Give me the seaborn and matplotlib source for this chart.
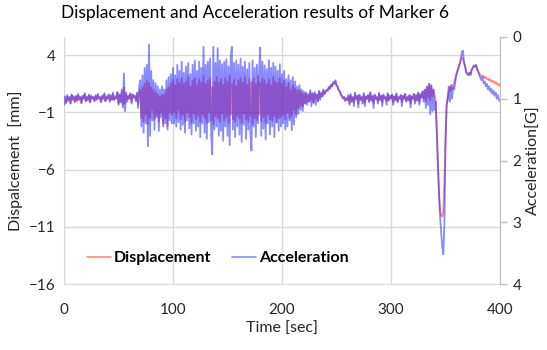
import numpy as np
import pandas as pd
import matplotlib
matplotlib.use("Agg")
import matplotlib.pyplot as plt
import seaborn as sns
from matplotlib.lines import Line2D

# ---------------- data ----------------
# Displacement [mm], 1 s sampling, t = 0..400
disp_quiet = [  # t = 0..69
    -0.4, 0.2, -0.2, 0.4, 0.0, 0.3, -0.2, 0.5, 0.1, 0.3,
    -0.1, 0.4, 0.0, 0.5, 0.1, 0.3, -0.2, 0.4, 0.2, 0.6,
    0.0, 0.3, 0.1, 0.5, -0.1, 0.4, 0.2, 0.3, 0.0, 0.4,
    0.1, 0.5, 0.2, 0.3, -0.1, 0.4, 0.2, 0.6, 0.0, 0.3,
    0.2, 0.5, 0.0, 0.4, 0.1, 0.6, 0.1, 0.3, 0.2, 0.7,
    -0.2, 0.5, 0.0, 0.8, -0.3, 1.2, -0.2, 0.6, 0.1, 0.4,
    0.2, 0.6, -0.1, 0.5, 0.3, 0.4, 0.1, 0.6, -0.3, 0.8]
disp_shake = [  # t = 70..219
    1.0, -1.5, 1.2, -1.8, 1.5, -1.2, 1.8, -2.0, 1.6, -1.5,
    1.2, -0.8, 1.0, -1.6, 0.8, -1.2, 0.6, -1.8, 0.4, -1.0,
    0.5, -2.0, 0.6, -1.5, 1.0, -2.2, 1.2, -1.0, 1.5, -1.2,
    1.8, -1.0, 1.4, -1.5, 1.9, -0.8, 1.6, -1.6, 2.0, -1.2,
    1.5, -1.8, 1.7, -1.0, 2.1, -1.4, 1.3, -1.9, 1.8, -1.1,
    2.0, -1.6, 1.4, -1.3, 1.9, -1.8, 1.6, -1.2, 2.2, -1.5,
    1.5, -1.9, 1.8, -1.0, 2.0, -1.7, 1.2, -2.0, 1.7, -1.3,
    2.1, -1.5, 1.6, -1.8, 1.9, -1.1, 1.4, -1.7, 2.0, -1.4,
    1.7, -1.9, 2.2, -1.2, 1.5, -1.6, 1.9, -1.8, 1.3, -1.3,
    1.8, -1.5, 2.0, -1.9, 1.6, -1.1, 2.1, -1.6, 1.4, -1.8,
    1.9, -1.3, 1.7, -2.0, 2.0, -1.5, 1.5, -1.7, 2.2, -1.2,
    1.6, -1.8, 2.0, -1.4, 1.8, -1.9, 1.5, -1.2, 1.9, -1.6,
    1.4, -1.7, 2.1, -1.3, 1.7, -1.9, 1.6, -1.5, 2.0, -1.4,
    1.5, -1.2, 1.8, -1.6, 1.2, -1.0, 1.6, -1.5, 1.0, -1.3,
    1.4, -0.8, 1.1, -1.2, 0.9, -0.6, 1.0, -0.4, 0.8, -0.5]
disp_mid = [  # t = 220..340
    0.6, -0.2, 0.7, -0.1, 0.5, 0.0, 0.8, 0.1, 0.6, -0.2,
    0.7, 0.2, 0.5, 0.0, 0.8, 0.3, 0.6, 0.4, 0.9, 0.7,
    0.8, 1.0, 0.9, 1.2, 1.1, 1.4, 1.3, 1.6, 1.5, 1.7,
    1.3, 1.2, 0.9, 0.8, 0.5, 0.4, 0.2, 0.3, 0.0, 0.2,
    0.1, 0.4, -0.2, 0.5, 0.0, 0.3, -0.1, 0.6, 0.2, 0.4,
    -0.2, 0.5, 0.1, 0.3, 0.0, 0.6, -0.1, 0.4, 0.2, 0.5,
    0.0, 0.7, 0.1, 0.4, -0.2, 0.5, 0.2, 0.3, 0.0, 0.6,
    0.1, 0.4, -0.1, 0.5, 0.2, 0.3, 0.0, 0.6, 0.1, 0.4,
    0.2, 0.5, -0.1, 0.4, 0.1, 0.6, 0.0, 0.3, 0.2, 0.5,
    -0.1, 0.4, 0.2, 0.6, 0.0, 0.3, 0.1, 0.5, -0.2, 0.4,
    0.2, 0.6, 0.0, 0.5, 0.1, 0.7, -0.1, 0.6, 0.3, 0.8,
    0.2, 1.0, 0.0, 1.2, 0.3, 1.5, 0.1, 1.3, 0.4, 1.0, 0.5]
disp_event = [  # t = 341..400
    0.0, -2.5, -5.5, -8.0, -9.5, -10.0, -10.1, -9.8, -7.0, -3.0, -0.5, 0.3,
    0.8, 1.2, 0.9, 1.4, 1.1, 1.6, 2.0,
    2.4, 2.7, 3.0, 3.3, 3.6, 3.8, 3.7, 3.3, 3.0, 2.6,
    2.4, 2.3, 2.5, 2.4, 2.7, 2.9, 3.1, 3.0, 3.1, 2.8,
    2.6, 2.4, 2.3, 2.2, 2.1, 2.2, 2.0, 2.1, 1.9, 2.0,
    1.8, 1.9, 1.7, 1.8, 1.6, 1.7, 1.5, 1.6, 1.4, 1.5, 1.3]

# Acceleration [G], 1 s sampling, t = 0..400
acc_quiet = [  # t = 0..69
    1.10, 0.96, 1.06, 0.94, 1.02, 0.97, 1.08, 0.93, 1.01, 0.96,
    1.05, 0.95, 1.03, 0.92, 1.01, 0.97, 1.07, 0.95, 1.00, 0.91,
    1.04, 0.96, 1.02, 0.93, 1.06, 0.95, 0.99, 0.97, 1.04, 0.94,
    1.01, 0.92, 0.99, 0.97, 1.05, 0.95, 1.00, 0.91, 1.04, 0.96,
    0.99, 0.93, 1.05, 0.94, 1.01, 0.90, 1.02, 0.96, 0.99, 0.89,
    1.10, 0.93, 1.06, 0.85, 1.14, 0.59, 1.20, 0.90, 1.05, 0.95,
    0.99, 0.91, 1.08, 0.93, 0.98, 0.95, 1.04, 0.90, 1.15, 0.80]
acc_shake = [  # t = 70..219
    0.70, 1.45, 0.62, 1.55, 0.50, 1.40, 0.45, 1.77, 0.12, 1.60,
    0.55, 1.35, 0.70, 1.50, 0.75, 1.30, 0.80, 1.52, 0.85, 1.30,
    0.80, 1.45, 0.85, 1.40, 0.70, 1.50, 0.65, 1.35, 0.60, 1.40,
    0.50, 1.40, 0.62, 1.45, 0.45, 1.38, 0.55, 1.50, 0.40, 1.42,
    0.58, 1.55, 0.48, 1.35, 0.42, 1.48, 0.60, 1.58, 0.45, 1.40,
    0.38, 1.52, 0.55, 1.45, 0.40, 1.62, 0.50, 1.40, 0.16, 1.55,
    0.45, 1.65, 0.40, 1.38, 0.35, 1.58, 1.90, 0.16, 1.50, 0.42,
    1.45, 0.18, 1.60, 0.38, 1.52, 0.44, 1.68, 0.40, 1.45, 0.36,
    1.60, 0.48, 1.75, 0.30, 0.16, 1.50, 0.42, 1.62, 0.38, 1.45,
    0.45, 1.58, 0.35, 1.70, 0.48, 1.42, 0.40, 1.65, 0.52, 1.50,
    0.42, 1.55, 1.84, 0.38, 1.45, 0.50, 1.62, 0.45, 1.40, 0.55,
    0.17, 1.60, 0.40, 1.48, 0.46, 1.66, 0.52, 1.40, 0.38, 1.58,
    0.50, 1.45, 0.42, 1.62, 0.48, 1.38, 0.55, 1.52, 0.44, 1.45,
    0.60, 1.40, 0.55, 1.50, 0.68, 1.45, 0.62, 1.35, 0.70, 1.51,
    0.65, 1.42, 0.72, 1.30, 0.80, 1.25, 0.78, 1.18, 0.85, 1.20]
acc_mid = [  # t = 220..340
    0.88, 1.08, 0.90, 1.10, 0.92, 1.05, 0.86, 1.12, 0.91, 1.06,
    0.89, 1.10, 0.93, 1.04, 0.87, 1.02, 0.90, 0.96, 0.85, 0.93,
    0.88, 0.86, 0.87, 0.81, 0.84, 0.77, 0.80, 0.73, 0.75, 0.70,
    0.78, 0.79, 0.86, 0.87, 0.93, 0.95, 0.99, 0.97, 1.03, 0.99,
    1.02, 0.94, 1.10, 0.92, 1.05, 0.97, 1.12, 0.90, 1.01, 0.95,
    1.14, 0.93, 1.02, 0.97, 1.08, 0.91, 1.12, 0.96, 1.00, 0.94,
    1.06, 0.89, 1.03, 0.95, 1.15, 0.93, 1.00, 0.97, 1.08, 0.90,
    1.02, 0.95, 1.12, 0.93, 0.99, 0.97, 1.10, 0.91, 1.03, 0.95,
    0.99, 0.93, 1.10, 0.96, 1.02, 0.91, 1.06, 0.97, 1.00, 0.94,
    1.12, 0.95, 1.00, 0.92, 1.05, 0.97, 1.02, 0.94, 1.14, 0.96,
    1.00, 0.92, 1.08, 0.94, 1.03, 0.90, 1.10, 0.93, 0.98, 0.88,
    1.05, 0.85, 1.15, 0.80, 1.10, 0.76, 1.25, 0.78, 1.20, 0.85, 1.18]
acc_event = [  # t = 341..400
    1.05, 1.55, 2.05, 2.50, 2.90, 3.15, 3.40, 3.52, 3.00, 1.80, 1.10, 1.00,
    0.80, 1.05, 0.78, 1.00, 0.82, 0.85, 0.72,
    0.62, 0.55, 0.50, 0.45, 0.36, 0.24, 0.22, 0.40, 0.48, 0.58,
    0.60, 0.62, 0.58, 0.62, 0.53, 0.50, 0.46, 0.48, 0.45, 0.52,
    0.56, 0.62, 0.66, 0.70, 0.65, 0.75, 0.72, 0.80, 0.76, 0.85,
    0.80, 0.88, 0.84, 0.92, 0.87, 0.95, 0.90, 1.00, 0.94, 1.02, 1.04]

x_ticks = [0, 100, 200, 300, 400]
left_ticks = [4, -1, -6, -11, -16]
right_ticks = [0, 1, 2, 3, 4]

# ---------------- build table ----------------
displacement = disp_quiet + disp_shake + disp_mid + disp_event
acceleration = acc_quiet + acc_shake + acc_mid + acc_event
time = np.arange(len(displacement))
df = pd.DataFrame({"Time": time, "Displacement": displacement,
                   "Acceleration": acceleration})

# ---------------- style ----------------
sns.set_style("white")
plt.rcParams["font.family"] = ["Lato", "DejaVu Sans"]
txt = "#262626"
grid_c = "#D9D9D9"
red = "#FF2A2A"
blue = "#2A2AFF"

fig = plt.figure(figsize=(5.47, 3.5), dpi=100)
ax = fig.add_axes([64 / 547, 1 - 284 / 350, (500 - 64) / 547, (284 - 37) / 350])
ax2 = ax.twinx()

sns.lineplot(data=df, x="Time", y="Displacement", ax=ax, color=red,
             alpha=0.55, linewidth=1.3)
sns.lineplot(data=df, x="Time", y="Acceleration", ax=ax2, color=blue,
             alpha=0.55, linewidth=1.3)

ax.set_xlim(0, 400)
ax.set_ylim(-16, 5.6)
ax2.set_ylim(4, 0)
ax.set_xticks(x_ticks)
ax.set_yticks(left_ticks)
ax2.set_yticks(right_ticks)

ax.grid(True, color=grid_c, linewidth=1.0)
ax.set_axisbelow(True)
ax2.grid(False)

for a in (ax, ax2):
    for s in a.spines.values():
        s.set_visible(False)
ax.spines["left"].set_visible(True)
ax.spines["left"].set_color(grid_c)
ax.spines["bottom"].set_visible(True)
ax.spines["bottom"].set_color(grid_c)
ax2.spines["right"].set_visible(True)
ax2.spines["right"].set_color("#BFBFBF")

ax.tick_params(axis="both", length=0, labelsize=11, colors=txt, pad=6)
ax.tick_params(axis="x", pad=14)
ax2.tick_params(axis="y", length=5, width=1, color="#BFBFBF", labelsize=11,
                labelcolor=txt, pad=4)

ax.set_xlabel("Time [sec]", fontsize=11.5, color=txt, labelpad=3)
ax.set_ylabel("Dispalcement  [mm]", fontsize=11.5, color=txt, labelpad=4)
ax2.set_ylabel("Acceleration[G]", fontsize=11.5, color=txt, labelpad=4,
               rotation=90)
fig.suptitle("Displacement and Acceleration results of Marker 6",
             fontsize=12.5, color="#000000", x=0.467, y=0.985)

if ax.get_legend():
    ax.get_legend().remove()
handles = [Line2D([], [], color=red, alpha=0.55, lw=1.2),
           Line2D([], [], color=blue, alpha=0.55, lw=1.2)]
leg = ax2.legend(handles, ["Displacement", "Acceleration"], loc="center left",
                 bbox_to_anchor=(0.02, 0.105), ncol=2, frameon=False,
                 prop={"weight": "bold", "size": 11.5}, handlelength=1.5,
                 handletextpad=0.2, columnspacing=1.3)
for t in leg.get_texts():
    t.set_color("#000000")

fig.savefig("out.png", dpi=100)
